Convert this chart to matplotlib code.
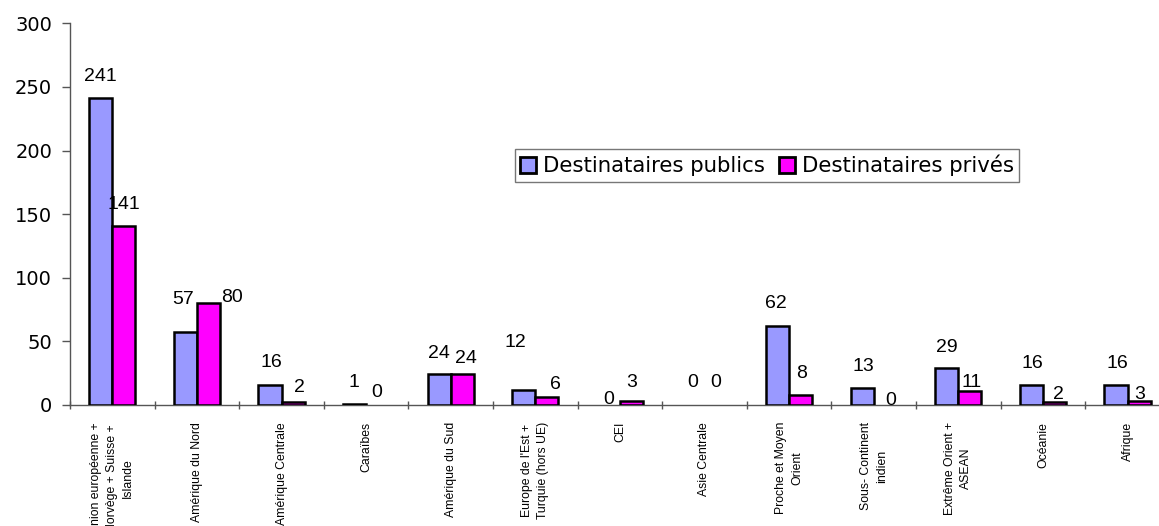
import numpy as np
import matplotlib
matplotlib.use("Agg")
from matplotlib import pyplot as plt

# data
categories = ["Union européenne +\nNorvège + Suisse +\nIslande", "Amérique du Nord",
              "Amérique Centrale", "Caraïbes", "Amérique du Sud",
              "Europe de l'Est +\nTurquie (hors UE)", "CEI", "Asie Centrale",
              "Proche et Moyen\nOrient", "Sous- Continent\nindien",
              "Extrême Orient +\nASEAN", "Océanie", "Afrique"]
publics = [241, 57, 16, 1, 24, 12, 0, 0, 62, 13, 29, 16, 16]
prives = [141, 80, 2, 0, 24, 6, 3, 0, 8, 0, 11, 2, 3]
series_names = ["Destinataires publics", "Destinataires privés"]

# label nudges in pixels (dx, dy above bar top), mimicking the original placement
pub_offsets = [(0, 17), (-2, 28), (1, 18), (-1, 17), (0, 16), (-8, 43), (0, 1),
               (0, 18), (-2, 18), (1, 17), (0, 16), (1, 17), (1, 17)]
priv_offsets = [(0, 17), (24, 1), (6, 10), (-1, 8), (4, 11), (9, 8), (0, 14),
                (0, 18), (1, 17), (5, 0), (2, 4), (4, 3), (1, 2)]

W, H = 1159, 526
fig = plt.figure(figsize=(W / 100, H / 100), dpi=100)
ax = fig.add_axes([70 / W, 1 - 405 / H, 13 * 84.6 / W, (405 - 23.3) / H])

x = np.arange(len(categories))
bw = 0.274
lw_pub = [1.8 if v > 0 else 0 for v in publics]
lw_priv = [1.8 if v > 0 else 0 for v in prives]
ax.bar(x - bw / 2, publics, bw, color="#9999FF", edgecolor="black", linewidth=lw_pub,
       label=series_names[0], zorder=3)
ax.bar(x + bw / 2, prives, bw, color="#FF00FF", edgecolor="black", linewidth=lw_priv,
       label=series_names[1], zorder=3)

for i in range(len(categories)):
    ax.annotate(str(publics[i]), (x[i] - bw / 2, publics[i]), xytext=pub_offsets[i],
                textcoords="offset pixels", ha="center", va="baseline",
                fontsize=14, family="Liberation Sans")
    ax.annotate(str(prives[i]), (x[i] + bw / 2, prives[i]), xytext=priv_offsets[i],
                textcoords="offset pixels", ha="center", va="baseline",
                fontsize=14, family="Liberation Sans")

ax.set_xlim(-0.5, len(categories) - 0.5)
ax.set_ylim(0, 300)
ax.set_yticks([0, 50, 100, 150, 200, 250, 300])
ax.set_xticks(np.arange(-0.5, len(categories), 1))
ax.set_xticklabels([])
ax.set_xticks(x, minor=True)
ax.set_xticklabels(categories, minor=True, rotation=90, fontsize=8.8,
                   family="Liberation Sans", linespacing=1.45, ha="center", va="top",
                   multialignment="center")

for s in ["top", "right"]:
    ax.spines[s].set_visible(False)
for s in ["left", "bottom"]:
    ax.spines[s].set_color("#555555")
    ax.spines[s].set_linewidth(1)

ax.tick_params(axis="y", direction="out", length=5.8, width=1, color="#555555",
               pad=7, labelsize=14)
for t in ax.get_yticklabels():
    t.set_family("DejaVu Sans")
ax.tick_params(axis="x", which="major", direction="inout", length=6, width=1,
               color="#555555")
ax.tick_params(axis="x", which="minor", length=0, pad=12.2)

leg = fig.legend(loc="center", bbox_to_anchor=(767 / W, 1 - 165.5 / H),
                 ncol=2, frameon=True, fancybox=False,
                 prop={"family": "DejaVu Sans", "size": 15.3},
                 handlelength=0.75, handleheight=0.75, handletextpad=0.3,
                 columnspacing=0.7, borderpad=0.25, borderaxespad=0)
leg.get_frame().set_edgecolor("#555555")
leg.get_frame().set_linewidth(1)
for p in leg.get_patches():
    p.set_linewidth(2)

fig.savefig("out.png", dpi=100)
